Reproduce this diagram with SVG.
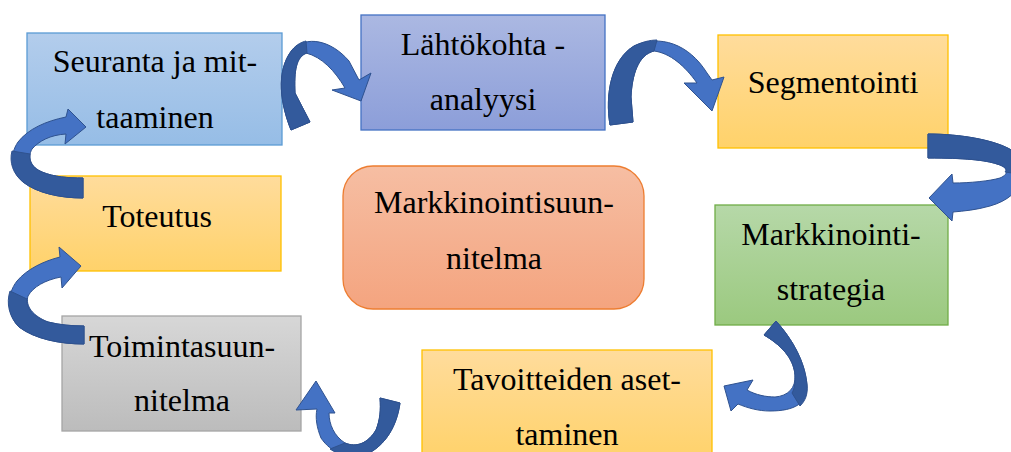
<svg xmlns="http://www.w3.org/2000/svg" width="1011" height="452" viewBox="0 0 1011 452">
<defs>
<linearGradient id="gBlue" x1="0" y1="0" x2="0" y2="1"><stop offset="0" stop-color="#B3CDEC"/><stop offset="1" stop-color="#96BDE6"/></linearGradient>
<linearGradient id="gPurple" x1="0" y1="0" x2="0" y2="1"><stop offset="0" stop-color="#ABB8E2"/><stop offset="1" stop-color="#8C9ED9"/></linearGradient>
<linearGradient id="gYellow" x1="0" y1="0" x2="0" y2="1"><stop offset="0" stop-color="#FFDC9C"/><stop offset="1" stop-color="#FFD26A"/></linearGradient>
<linearGradient id="gGreen" x1="0" y1="0" x2="0" y2="1"><stop offset="0" stop-color="#B6D8A8"/><stop offset="1" stop-color="#9BC97F"/></linearGradient>
<linearGradient id="gGray" x1="0" y1="0" x2="0" y2="1"><stop offset="0" stop-color="#D7D7D7"/><stop offset="1" stop-color="#BCBCBC"/></linearGradient>
<linearGradient id="gOrange" x1="0" y1="0" x2="0" y2="1"><stop offset="0" stop-color="#F6BEA3"/><stop offset="1" stop-color="#F4A47F"/></linearGradient>
</defs>
<style>
.t{font-size:32px;fill:#000;text-anchor:middle}
.box{stroke-width:1.3}
.lt{fill:#4472C4;stroke:#2F528F;stroke-width:1;stroke-linejoin:round}
.dk{fill:#335A9C;stroke:#2F528F;stroke-width:1;stroke-linejoin:round}
</style>
<rect width="1011" height="452" fill="#FFFFFF"/>

<g id="nodes" font-family="'Liberation Serif', 'Times New Roman', 'DejaVu Serif', serif">
<g id="node-seuranta">
<rect class="box" x="27" y="33" width="255" height="112" fill="url(#gBlue)" stroke="#5B9BD5"/>
<text class="t" x="155" y="72">Seuranta ja mit-</text>
<text class="t" x="155" y="128">taaminen</text>
</g>
<g id="node-lahtokohta">
<rect class="box" x="361" y="15" width="244" height="115" fill="url(#gPurple)" stroke="#4472C4"/>
<text class="t" x="483" y="55">Lähtökohta -</text>
<text class="t" x="483" y="110">analyysi</text>
</g>
<g id="node-segmentointi">
<rect class="box" x="718" y="35" width="230" height="113" fill="url(#gYellow)" stroke="#FFC000"/>
<text class="t" x="833" y="93">Segmentointi</text>
</g>
<g id="node-strategia">
<rect class="box" x="715" y="205" width="233" height="120" fill="url(#gGreen)" stroke="#70AD47"/>
<text class="t" x="831" y="245">Markkinointi-</text>
<text class="t" x="831" y="300">strategia</text>
</g>
<g id="node-tavoitteiden">
<rect class="box" x="422" y="350" width="290" height="110" fill="url(#gYellow)" stroke="#FFC000"/>
<text class="t" x="567" y="390">Tavoitteiden aset-</text>
<text class="t" x="567" y="445">taminen</text>
</g>
<g id="node-toiminta">
<rect class="box" x="62" y="316" width="239" height="115" fill="url(#gGray)" stroke="#A5A5A5"/>
<text class="t" x="182" y="357">Toimintasuun-</text>
<text class="t" x="182" y="411">nitelma</text>
</g>
<g id="node-toteutus">
<rect class="box" x="30" y="176" width="251" height="95" fill="url(#gYellow)" stroke="#FFC000"/>
<text class="t" x="157" y="227">Toteutus</text>
</g>
<g id="node-center">
<rect class="box" x="343" y="166" width="301" height="143" rx="30" ry="30" fill="url(#gOrange)" stroke="#ED7D31"/>
<text class="t" x="494" y="213">Markkinointisuun-</text>
<text class="t" x="494" y="269">nitelma</text>
</g>
</g>

<g id="connectors">
<!-- Seuranta -> Lähtökohta -->
<path class="lt" d="M291,130 C281,105 275,72 292,50 C306,35 331,40 349,61 L359,80 L371,73 L361,101 L332,90 L345,88 C335,71 322,57 306,53 C296,57 294,71 295,93 L310,122 Z"/>
<path class="dk" d="M291,130 C281,105 275,72 292,50 C297,44 302,42 306,41 L307,53 C296,57 294,71 295,93 L310,122 Z"/>
<!-- Lähtökohta -> Segmentointi -->
<path class="lt" d="M610,125 C605,95 611,60 634,46 C660,34 689,44 707,73 L712,80 L724,77 L712,111 L684,83 L697,83 C685,66 670,53 654,51 C638,55 632,75 631,97 L633,122 Z"/>
<path class="dk" d="M610,125 C605,95 611,60 634,46 C642,42 650,40 657,40 L654,51 C638,55 632,75 631,97 L633,122 Z"/>
<!-- Segmentointi -> Strategia -->
<path class="lt" d="M928,134 C960,134 996,140 1013,151 C1032,165 1026,196 990,206 C976,210 964,211 953,212 L952,221 L929,198 L952,174 L953,183 C970,183 990,181 1000,178 C1010,174 1008,167 997,164 C985,160 965,158 928,158 Z"/>
<path class="dk" d="M928,134 C960,134 996,140 1013,151 C1021,157 1023,166 1019,174 L1005,172 C1008,169 1004,166 997,164 C985,160 965,158 928,158 Z"/>
<!-- Strategia -> Tavoitteiden -->
<path class="lt" d="M776,321 C793,340 805,362 807,385 C808,403 795,411 770,411 C758,411 748,408 738,404 L731,411 L724,386 L753,380 L747,390 C756,395 766,397 775,397 C788,396 796,388 795,375 C794,362 786,348 764,335 Z"/>
<path class="dk" d="M776,321 C793,340 805,362 807,385 C808,395 805,401 800,406 L792,393 C795,388 795,382 795,375 C794,362 786,348 764,335 Z"/>
<!-- Tavoitteiden -> Toiminta -->
<path class="lt" d="M400,403 C397,425 386,446 365,455 C348,459 331,453 321,438 C317,428 315,418 317,409 L296,410 L316,381 L335,413 L329,413 C329,424 334,436 345,443 C357,448 368,443 376,430 C380,420 381,410 380,398 Z"/>
<path class="dk" d="M400,403 C397,425 386,446 365,455 C352,458 340,456 330,449 L345,443 C357,448 368,443 376,430 C380,420 381,410 380,398 Z"/>
<!-- Toiminta -> Toteutus -->
<path class="lt" d="M84,344 C60,344 35,339 19,327 C7,315 6,295 17,281 C27,269 44,261 60,257 L59,247 L81,266 L62,288 L61,277 C45,280 33,287 28,296 C25,306 33,316 48,322 C60,325 72,326 84,326 Z"/>
<path class="dk" d="M84,344 C60,344 35,339 19,327 C9,317 6,303 10,291 L27,299 C26,308 33,317 48,322 C60,325 72,326 84,326 Z"/>
<!-- Toteutus -> Seuranta -->
<path class="lt" d="M83,198 C60,198 37,193 23,182 C11,172 9,155 18,142 C28,129 46,121 66,117 L68,109 L86,127 L65,144 L66,134 C50,135 39,141 32,149 C27,158 31,167 42,172 C54,177 68,178 83,178 Z"/>
<path class="dk" d="M83,198 C60,198 37,193 23,182 C13,174 9,162 12,151 L30,154 C29,162 32,168 42,172 C54,177 68,178 83,178 Z"/>
</g>
</svg>
